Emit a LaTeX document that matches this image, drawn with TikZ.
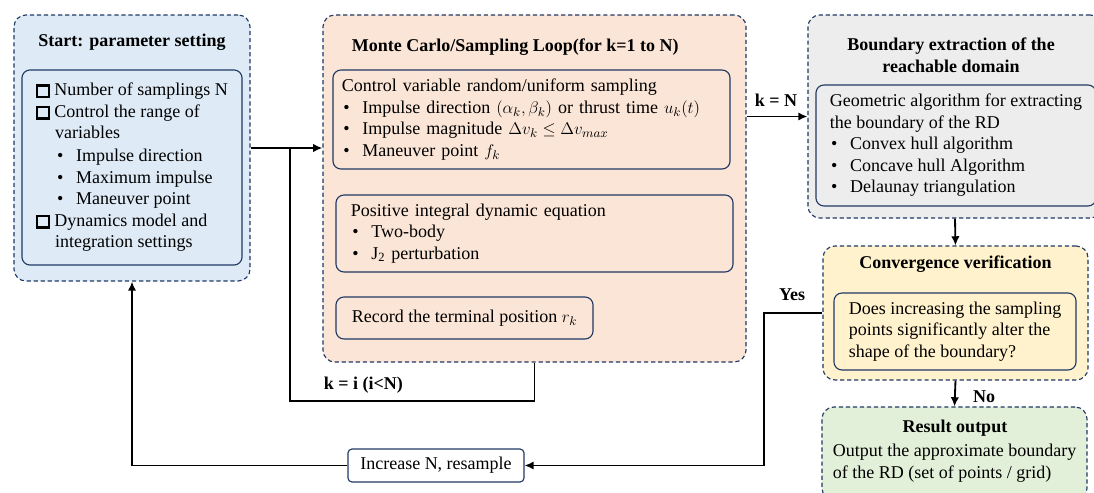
\documentclass[tikz,border=0pt]{standalone}
\usepackage{fontspec}
\setmainfont{Liberation Serif}
\usepackage{tikz}
\usetikzlibrary{arrows.meta,positioning}

\definecolor{navy}{HTML}{203864}
\definecolor{startblue}{HTML}{DEEBF7}
\definecolor{loopbeige}{HTML}{FBE5D6}
\definecolor{extgray}{HTML}{EDEDED}
\definecolor{convyellow}{HTML}{FFF2CC}
\definecolor{resgreen}{HTML}{E2F0D9}

\newcommand{\sqbullet}{{\setlength{\fboxsep}{0pt}\setlength{\fboxrule}{1.7pt}\fbox{\rule{0pt}{6.5pt}\rule{6.5pt}{0pt}}}}
\newcommand{\itm}{\hspace*{1pt}\textbullet\hspace{9pt}}

\begin{document}
\begin{tikzpicture}[x=0.025cm,y=0.025cm,
          font=\fontsize{12.8}{15.3}\selectfont,
          outer/.style={draw=navy,dash pattern=on 3pt off 2pt,line width=0.8pt,rounded corners=0.3cm,inner sep=0pt},
          inner/.style={draw=navy,line width=0.8pt,rounded corners=0.2cm,align=left,inner sep=0pt},
          title/.style={font=\fontsize{12.8}{15.5}\selectfont\bfseries,align=center},
          lab/.style={font=\fontsize{12.8}{15.5}\selectfont\bfseries},
          line/.style={draw,line width=1.3pt},
          arr/.style={line,-{Latex[length=6.5pt,width=6pt]}}
        ]
        \useasboundingbox (0,0) rectangle (1094,-493);

        %outer boxes
        \node[outer,fill=startblue,minimum width=5.9cm,minimum height=6.65cm] (start) at (132,-148) {};
        \node[outer,fill=loopbeige,minimum width=10.575cm,minimum height=8.675cm] (loop) at (534.5,-188.5) {};
        \node[outer,fill=extgray,minimum width=7.35cm,minimum height=5.075cm] (ext) at (955,-116.5) {};
        \node[outer,fill=convyellow,minimum width=6.625cm,minimum height=3.35cm] (conv) at (955.5,-313) {};
        \node[outer,fill=resgreen,minimum width=6.625cm,minimum height=2.325cm] (res) at (954.5,-453.5) {};

        %titles
        \node[title] (starttitle) at (132,-42) {Start: parameter setting};
        \node[title,anchor=west] (looptitle) at (347,-47) {Monte Carlo/Sampling Loop(for k=1 to N)};
        \node[title] (exttitle) at (951,-55) {Boundary extraction of the\\reachable domain};
        \node[title] (convtitle) at (955.5,-264) {Convergence verification};
        \node[title] (restitle) at (955,-428) {Result output};

        %start
        \node[inner,minimum width=5.5cm,minimum height=4.875cm] (params) at (132,-167.5) {%
          \sqbullet\ Number of samplings N\\
          \sqbullet\ Control the range of\\
          \hspace*{13.5pt}variables\\[1pt]
          \hspace*{14pt}\itm Impulse direction\\
          \hspace*{14pt}\itm Maximum impulse\\
          \hspace*{14pt}\itm Maneuver point\\
          \sqbullet\ Dynamics model and\\
          \hspace*{13.5pt}integration settings};

        %sampling loop
        \node[inner,minimum width=9.925cm,minimum height=2.475cm,text width=9.475cm,inner xsep=0.225cm] (sampling) at (531.5,-119.5) {%
          Control variable random/uniform sampling\\
          \itm Impulse direction $(\alpha_k,\beta_k)$ or thrust time $u_k(t)$\\
          \itm Impulse magnitude $\Delta v_k\leq\Delta v_{max}$\\
          \itm Maneuver point $f_k$};
        \node[inner,minimum width=9.925cm,minimum height=1.925cm,text width=9.175cm,inner xsep=0.375cm] (integ) at (534.5,-233.5) {%
          Positive integral dynamic equation\\
          \itm Two-body\\
          \itm J\textsubscript{2} perturbation};
        \node[inner,minimum width=6.425cm,minimum height=1.05cm] (record) at (464.5,-318) {Record the terminal position $r_k$};

        %boundary extraction
        \node[inner,minimum width=7cm,minimum height=3.025cm] (geom) at (956,-145.5) {%
          Geometric algorithm for extracting\\
          the boundary of the RD\\
          \itm Convex hull algorithm\\
          \itm Concave hull Algorithm\\
          \itm Delaunay triangulation};

        %convergence
        \node[inner,minimum width=6.05cm,minimum height=1.925cm] (question) at (955,-331.5) {%
          Does increasing the sampling\\
          points significantly alter the\\
          shape of the boundary?};

        %result
        \node[align=left,inner sep=0pt] (restext) at (954.5,-463) {%
          Output the approximate boundary\\
          of the RD (set of points / grid)};

        %resample
        \node[draw=navy,line width=0.8pt,rounded corners=0.1cm,minimum width=4.4cm,minimum height=0.825cm] (inc) at (436,-465.5) {Increase N, resample};

        %connectors
        \coordinate (jn) at (290,-148);
        \draw[arr] (start.east) -- (start.east -| loop.west);
        \draw[line] (loop.south) -- ++(0,-38) -| (jn);
        \node[lab,anchor=west] (klab) at (319,-385) {k = i (i<N)};
        \draw[arr] (ext.west -| loop.east) -- (ext.west);
        \node[lab] (nlab) at (776,-100) {k = N};
        \draw[arr] (ext.south) -- (conv.north);
        \draw[arr] (conv.south) -- (res.north);
        \node[lab] (nolab) at (984,-397) {No};
        \draw[arr] (conv.west) -- ++(-58,0) |- (inc.east);
        \node[lab] (yeslab) at (792,-295) {Yes};
        \draw[arr] (inc.west) -| (start.south);
    \end{tikzpicture}
\end{document}
